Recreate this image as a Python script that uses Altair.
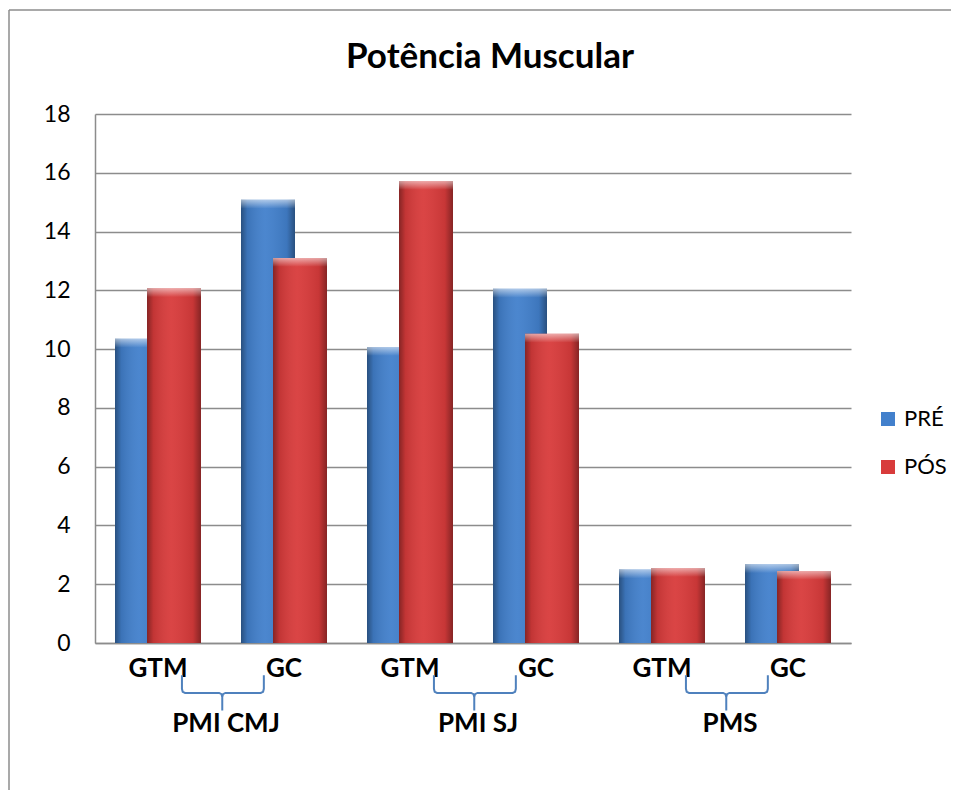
import json
import altair as alt
import pandas as pd

# ---------------- data ----------------
title_text = "Potência Muscular"
categories = ["GTM", "GC", "GTM", "GC", "GTM", "GC"]
groups = ["PMI CMJ", "PMI SJ", "PMS"]
series = ["PRÉ", "PÓS"]
pre_values = [10.35, 15.08, 10.07, 12.05, 2.50, 2.68]
pos_values = [12.07, 13.10, 15.72, 10.52, 2.55, 2.45]
y_ticks = [0, 2, 4, 6, 8, 10, 12, 14, 16, 18]

series_colors = ["#4280cc", "#d83b3b"]

rows = []
for s, vals in zip(series, [pre_values, pos_values]):
    for i, v in enumerate(vals):
        rows.append({"slot": i, "category": categories[i], "series": s, "value": v})
df = pd.DataFrame(rows)

# braces (annotation) built from group index: each group spans two slots
brace_rows = []
for g, name in enumerate(groups):
    xl, xc, xr = 2 * g + 0.69, 2 * g + 1.01, 2 * g + 1.34
    yt, ym, yb = -1.10, -1.70, -2.30
    pts = [
        (xl, yt), (xl, ym + 0.14), (xl + 0.006, ym + 0.04), (xl + 0.025, ym),
        (xc - 0.025, ym), (xc - 0.006, ym - 0.04), (xc, ym - 0.14), (xc, yb),
        (xc, ym - 0.14), (xc + 0.006, ym - 0.04), (xc + 0.025, ym),
        (xr - 0.025, ym), (xr - 0.006, ym + 0.04), (xr, ym + 0.14), (xr, yt),
    ]
    for k, (px, py) in enumerate(pts):
        brace_rows.append({"grp": name, "k": k, "gx": px, "value": py})
brace_df = pd.DataFrame(brace_rows)
group_df = pd.DataFrame({"grp": groups, "gx": [2 * g + 1.04 for g in range(len(groups))]})

FONT = "Lato"
GRAY = "#8c8c8c"

# ---------------- encodings ----------------
label_expr = json.dumps(categories) + "[datum.value]"
x_enc = alt.X(
    "slot:O",
    scale=alt.Scale(paddingInner=0.492, paddingOuter=0.246),
    axis=alt.Axis(
        title=None, labelExpr=label_expr, labelAngle=0, ticks=False,
        labelFont=FONT, labelFontWeight="bold", labelFontSize=26, labelColor="black",
        labelPadding=12, domainColor=GRAY, domainWidth=1.5, grid=False,
    ),
)
xoff_enc = alt.XOffset("series:N", scale=alt.Scale(domain=series, paddingInner=0, paddingOuter=0))
y_enc = alt.Y(
    "value:Q",
    scale=alt.Scale(domain=[0, 18], nice=False),
    axis=alt.Axis(
        title=None, values=y_ticks, ticks=False, labelFont=FONT, labelFontSize=23,
        labelColor="black", labelPadding=25, domainColor=GRAY, domainWidth=1.5,
        gridColor=GRAY, gridWidth=1.5,
    ),
)
color_enc = alt.Color(
    "series:N",
    scale=alt.Scale(domain=series, range=series_colors),
    legend=alt.Legend(
        title=None, orient="none", legendX=782, legendY=294, padding=0,
        symbolType="square", symbolSize=196, symbolStrokeWidth=0, symbolOpacity=1,
        labelFont=FONT, labelFontSize=22, labelColor="black", labelOffset=5,
        rowPadding=26,
    ),
)

shade = alt.Gradient(
    gradient="linear", x1=0, x2=1, y1=0, y2=0,
    stops=[
        alt.GradientStop(color="rgba(0,0,0,0.38)", offset=0),
        alt.GradientStop(color="rgba(0,0,0,0.10)", offset=0.12),
        alt.GradientStop(color="rgba(255,255,255,0.05)", offset=0.45),
        alt.GradientStop(color="rgba(0,0,0,0.08)", offset=0.85),
        alt.GradientStop(color="rgba(0,0,0,0.38)", offset=1),
    ],
)
bevel = alt.Gradient(
    gradient="linear", x1=0, x2=0, y1=0, y2=1,
    stops=[
        alt.GradientStop(color="rgba(255,255,255,0.55)", offset=0),
        alt.GradientStop(color="rgba(255,255,255,0.0)", offset=1),
    ],
)

BW = 54
base = alt.Chart(df)
layers = []
for s in series:
    sub = base.transform_filter(alt.datum.series == s)
    layers.append(sub.mark_bar(width=BW).encode(x=x_enc, xOffset=xoff_enc, y=y_enc, color=color_enc))
    layers.append(sub.mark_bar(width=BW, color=shade).encode(x=x_enc, xOffset=xoff_enc, y=y_enc))
    layers.append(
        sub.transform_calculate(top2="datum.value - 0.3")
        .mark_bar(width=BW, color=bevel)
        .encode(x=x_enc, xOffset=xoff_enc, y=y_enc, y2="top2:Q")
    )
bars = alt.layer(*layers)

gx_scale = alt.Scale(domain=[0, 6], nice=False, zero=False)
braces = alt.Chart(brace_df).mark_line(color="#4f81bd", strokeWidth=2).encode(
    x=alt.X("gx:Q", scale=gx_scale, axis=None),
    y=y_enc,
    detail="grp:N",
    order="k:Q",
)
group_labels = alt.Chart(group_df).mark_text(
    font=FONT, fontWeight="bold", fontSize=26, color="black", baseline="middle"
).encode(
    x=alt.X("gx:Q", scale=gx_scale, axis=None),
    y=alt.value(610),
    text="grp:N",
)
annotations = alt.layer(braces, group_labels)

frame_df = pd.DataFrame({"title": [title_text]})
frame_left = alt.Chart(frame_df).mark_rule(color=GRAY, strokeWidth=1.5).encode(
    x=alt.value(-86), y=alt.value(-104), y2=alt.value(760)
)
frame_top = alt.Chart(frame_df).mark_rule(color=GRAY, strokeWidth=1.5).encode(
    x=alt.value(-86), x2=alt.value(900), y=alt.value(-104)
)
title = alt.Chart(frame_df).mark_text(
    font=FONT, fontWeight="bold", fontSize=35, color="black", baseline="middle"
).encode(x=alt.value(395), y=alt.value(-57), text="title:N")

chart = (
    alt.layer(frame_left, frame_top, title, bars, annotations)
    .resolve_scale(x="independent")
    .properties(
        width=756,
        height=529,
        autosize=alt.AutoSizeParams(type="none"),
        padding={"left": 87, "top": 106, "right": 100, "bottom": 147},
        background="white",
    )
    .configure_view(stroke=None)
)

chart.save("out.html", embed_options={"renderer": "svg", "actions": False})
